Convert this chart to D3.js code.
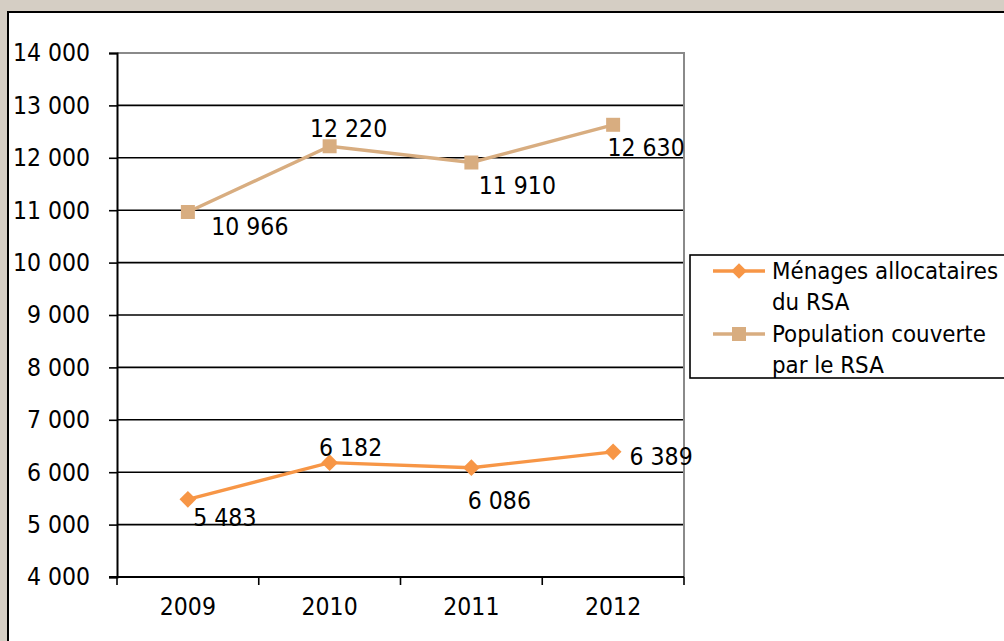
<!DOCTYPE html>
<html>
<head>
<meta charset="utf-8">
<script src="https://cdn.jsdelivr.net/npm/d3@7"></script>
<style>
  html, body { margin: 0; padding: 0; background: #D5CEC4; }
  svg { display: block; }
  text { font-family: "DejaVu Sans Condensed", "DejaVu Sans", sans-serif; fill: #000; }
</style>
</head>
<body>
<svg id="chart" width="1004" height="641"></svg>
<script>
// Years shown on the category axis
const years = ["2009", "2010", "2011", "2012"];
// Households receiving the RSA
const menages = [5483, 6182, 6086, 6389];
// Population covered by the RSA
const population = [10966, 12220, 11910, 12630];
// Value axis ticks
const yTicks = [4000, 5000, 6000, 7000, 8000, 9000, 10000, 11000, 12000, 13000, 14000];
// Legend entries
const legendLabels = [["Ménages allocataires", "du RSA"], ["Population couverte", "par le RSA"]];

// Label placement relative to each point (dx, dy)
const menagesLabelPos = [[37, 18], [21, -15], [28, 33], [48, 5]];
const populationLabelPos = [[62, 15], [19, -18], [46, 23], [33, 23]];

const colMenages = "#F79646";
const colPop = "#D8AD80";
const fmt = v => d3.format(",")(v).replace(/,/g, " ");

const svg = d3.select("#chart");
const fs = 24.5;
const legendFs = 23.8;

// Chart area
svg.append("path").attr("d", "M8,650V12H1020")
  .attr("fill", "#fff").attr("stroke", "#000").attr("stroke-width", 2);
svg.append("rect").attr("x", 9).attr("y", 13).attr("width", 1000).attr("height", 640).attr("fill", "#fff");

const pLeft = 117, pRight = 684, pTop = 53, pBottom = 577;
const x = d3.scaleBand().domain(years).range([pLeft, pRight]);
const y = d3.scaleLinear().domain([4000, 14000]).range([pBottom, pTop]);

// Horizontal gridlines
svg.append("g").selectAll("line").data(yTicks.filter(v => v > 4000 && v < 14000)).join("line")
  .attr("x1", pLeft).attr("x2", pRight).attr("y1", d => y(d)).attr("y2", d => y(d))
  .attr("stroke", "#000").attr("stroke-width", 1.6);

// Plot area outline (top and right)
svg.append("path").attr("d", `M${pLeft},${pTop}H${pRight}V${pBottom}`)
  .attr("fill", "none").attr("stroke", "#8a8a8a").attr("stroke-width", 2);

// Value axis
const yAxis = svg.append("g").attr("transform", `translate(${pLeft},0)`)
  .call(d3.axisLeft(y).tickValues(yTicks).tickSize(8).tickPadding(19).tickFormat(fmt));
yAxis.select(".domain").attr("stroke", "#000").attr("stroke-width", 2);
yAxis.selectAll(".tick line").attr("stroke", "#000").attr("stroke-width", 1.6);
yAxis.selectAll("text").style("font-size", fs + "px").attr("font-family", null);

// Category axis
const xAxis = svg.append("g").attr("transform", `translate(0,${pBottom})`)
  .call(d3.axisBottom(x).tickSize(0).tickPadding(21));
xAxis.select(".domain").remove();
xAxis.selectAll("text").style("font-size", fs + "px").attr("font-family", null);
svg.append("line").attr("x1", pLeft - 8).attr("x2", pRight).attr("y1", pBottom).attr("y2", pBottom)
  .attr("stroke", "#000").attr("stroke-width", 2.2);
svg.append("g").selectAll("line").data(years.map(d => x(d)).concat([pRight])).join("line")
  .attr("x1", d => d).attr("x2", d => d).attr("y1", pBottom).attr("y2", pBottom + 8)
  .attr("stroke", "#000").attr("stroke-width", 1.6);

const cx = d => x(d) + x.bandwidth() / 2;
const line = d3.line().x((d, i) => cx(years[i])).y(d => y(d));
const isDiamond = s => s === "diamond";

function markerTransform(kind, px, py) {
  return isDiamond(kind) ? `translate(${px},${py}) rotate(45)` : `translate(${px},${py})`;
}

function drawSeries(values, color, kind, size, labelPos) {
  svg.append("path").datum(values).attr("d", line)
    .attr("fill", "none").attr("stroke", color).attr("stroke-width", 3.4);
  svg.append("g").selectAll("path").data(values).join("path")
    .attr("d", d3.symbol().type(d3.symbolSquare).size(size))
    .attr("transform", (d, i) => markerTransform(kind, cx(years[i]), y(d)))
    .attr("fill", color);
  svg.append("g").selectAll("text").data(values).join("text")
    .attr("x", (d, i) => cx(years[i]) + labelPos[i][0])
    .attr("y", (d, i) => y(d) + labelPos[i][1])
    .attr("text-anchor", "middle").attr("dominant-baseline", "central")
    .style("font-size", fs + "px")
    .text(fmt);
}

drawSeries(population, colPop, "square", 196, populationLabelPos);
drawSeries(menages, colMenages, "diamond", 140, menagesLabelPos);

// Legend
const lg = svg.append("g");
lg.append("rect").attr("x", 690).attr("y", 255).attr("width", 330).attr("height", 123)
  .attr("fill", "#fff").attr("stroke", "#000").attr("stroke-width", 1.6);
const items = [
  { color: colMenages, kind: "diamond", size: 120, y: 271 },
  { color: colPop, kind: "square", size: 196, y: 334 }
];
items.forEach((it, i) => {
  lg.append("line").attr("x1", 713).attr("x2", 765).attr("y1", it.y).attr("y2", it.y)
    .attr("stroke", it.color).attr("stroke-width", 3.4);
  lg.append("path").attr("d", d3.symbol().type(d3.symbolSquare).size(it.size)())
    .attr("transform", markerTransform(it.kind, 739, it.y))
    .attr("fill", it.color);
  const t = lg.append("text").attr("x", 772).attr("y", it.y + 8).style("font-size", legendFs + "px");
  legendLabels[i].forEach((s, j) => t.append("tspan").attr("x", 772).attr("dy", j === 0 ? 0 : 31).text(s));
});
</script>
</body>
</html>
